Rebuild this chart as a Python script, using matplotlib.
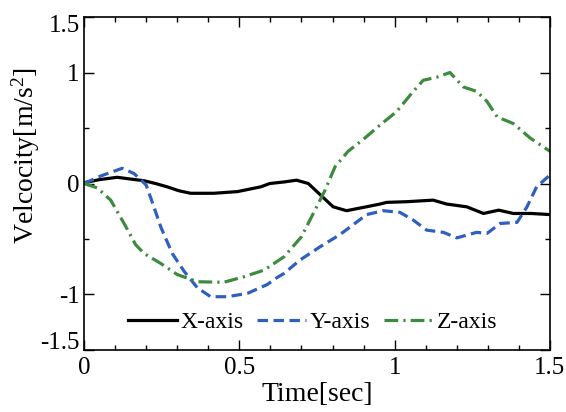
import numpy as np
import matplotlib
matplotlib.use("Agg")
import matplotlib.pyplot as plt
import matplotlib.transforms as mtransforms
from matplotlib.ticker import FixedLocator

plt.rcParams['font.family'] = ['Liberation Serif', 'DejaVu Serif']
plt.rcParams['mathtext.fontset'] = 'custom'
plt.rcParams['mathtext.rm'] = 'Liberation Serif'
plt.rcParams['mathtext.it'] = 'Liberation Serif:italic'

# X-axis (black solid)
x_t = [0, 0.05, 0.107, 0.15, 0.193, 0.23, 0.268, 0.305, 0.343, 0.418, 0.494,
       0.534, 0.569, 0.598, 0.644, 0.684, 0.722, 0.76, 0.802, 0.845, 0.909,
       0.953, 0.974, 1.038, 1.124, 1.167, 1.232, 1.286, 1.335, 1.382, 1.44, 1.5]
x_v = [0.007, 0.035, 0.056, 0.04, 0.025, 0.0, -0.03, -0.065, -0.088, -0.088,
       -0.073, -0.05, -0.03, 0.0, 0.014, 0.03, 0.0, -0.10, -0.21, -0.245, -0.21,
       -0.185, -0.17, -0.164, -0.15, -0.185, -0.21, -0.27, -0.24, -0.27, -0.27,
       -0.28]

# Y-axis (blue dashed)
y_t = [0, 0.054, 0.123, 0.161, 0.2, 0.225, 0.247, 0.284, 0.322, 0.365, 0.408,
       0.461, 0.526, 0.59, 0.62, 0.644, 0.695, 0.76, 0.824, 0.867, 0.91, 0.963,
       1.017, 1.06, 1.103, 1.157, 1.2, 1.264, 1.297, 1.34, 1.394, 1.426, 1.457, 1.5]
y_v = [0, 0.068, 0.137, 0.09, -0.013, -0.21, -0.39, -0.63, -0.79, -0.94, -1.02,
       -1.02, -0.99, -0.91, -0.85, -0.81, -0.69, -0.57, -0.46, -0.37, -0.28,
       -0.245, -0.26, -0.33, -0.42, -0.44, -0.49, -0.44, -0.45, -0.36, -0.35,
       -0.21, -0.03, 0.077]

# Z-axis (green dash-dot)
z_t = [0, 0.043, 0.086, 0.129, 0.166, 0.193, 0.247, 0.30, 0.365, 0.45, 0.515,
       0.58, 0.644, 0.70, 0.738, 0.776, 0.808, 0.85, 0.9, 0.953, 1.006, 1.06,
       1.092, 1.135, 1.178, 1.221, 1.264, 1.297, 1.33, 1.382, 1.436, 1.5]
z_v = [0, -0.04, -0.15, -0.36, -0.55, -0.63, -0.72, -0.82, -0.885, -0.89, -0.84,
       -0.78, -0.66, -0.48, -0.27, -0.06, 0.15, 0.29, 0.40, 0.527, 0.647, 0.83,
       0.93, 0.957, 1.0, 0.87, 0.83, 0.74, 0.60, 0.54, 0.41, 0.29]

xticks = [0, 0.5, 1, 1.5]
xtick_labels = ['0', '0.5', '1', '1.5']
yticks = [-1.5, -1, 0, 1, 1.5]
ytick_labels = ['-1.5', '-1', '0', '1', '1.5']

fig = plt.figure(figsize=(5.66, 4.12), dpi=100)
ax = fig.add_axes([0.1484, 0.1505, 0.8233, 0.8082])

ax.plot(x_t, x_v, color='black', lw=2.3, label='X-axis')
ax.plot(y_t, y_v, color='#2f5fbf', lw=2.3, dashes=(3.3, 1.7), label='Y-axis')
ax.plot(z_t, z_v, color='#3d8b40', lw=2.3, dashes=(4.3, 1.6, 0.7, 1.6), label='Z-axis')

ax.set_xlim(0, 1.5)
ax.set_ylim(-1.5, 1.5)
ax.xaxis.set_major_locator(FixedLocator(xticks))
ax.xaxis.set_minor_locator(FixedLocator(np.arange(1, 15) / 10))
ax.yaxis.set_major_locator(FixedLocator(yticks))
ax.yaxis.set_minor_locator(FixedLocator([-0.5, 0.5]))
ax.set_xticklabels(xtick_labels)
ax.set_yticklabels(ytick_labels)

ax.tick_params(which='both', direction='in', top=True, right=True, width=1.0)
ax.tick_params(which='major', length=7, labelsize=18)
ax.tick_params(which='minor', length=3.5)
ax.tick_params(axis='y', pad=3)
ax.tick_params(axis='x', pad=5)
for s in ax.spines.values():
    s.set_linewidth(1.2)

# nudge the end labels on the y axis inward like the original
for lab in ax.get_yticklabels():
    if lab.get_text() == '1.5':
        lab.set_transform(lab.get_transform() + mtransforms.ScaledTranslation(0, -6 / 100, fig.dpi_scale_trans))
    elif lab.get_text() == '-1.5':
        lab.set_transform(lab.get_transform() + mtransforms.ScaledTranslation(0, 9 / 100, fig.dpi_scale_trans))

ax.set_xlabel('Time[sec]', fontsize=20, labelpad=2)
ax.set_ylabel(r'Velcocity[m/s$^2$]', fontsize=20)
ax.yaxis.set_label_coords(-0.09, 0.583)

ax.legend(loc='center', bbox_to_anchor=(0.49, 0.084), ncol=3, frameon=False,
          fontsize=17, handlelength=2.1, handletextpad=0.15, columnspacing=0.55,
          borderpad=0, borderaxespad=0)

fig.savefig('out.png', dpi=100)
